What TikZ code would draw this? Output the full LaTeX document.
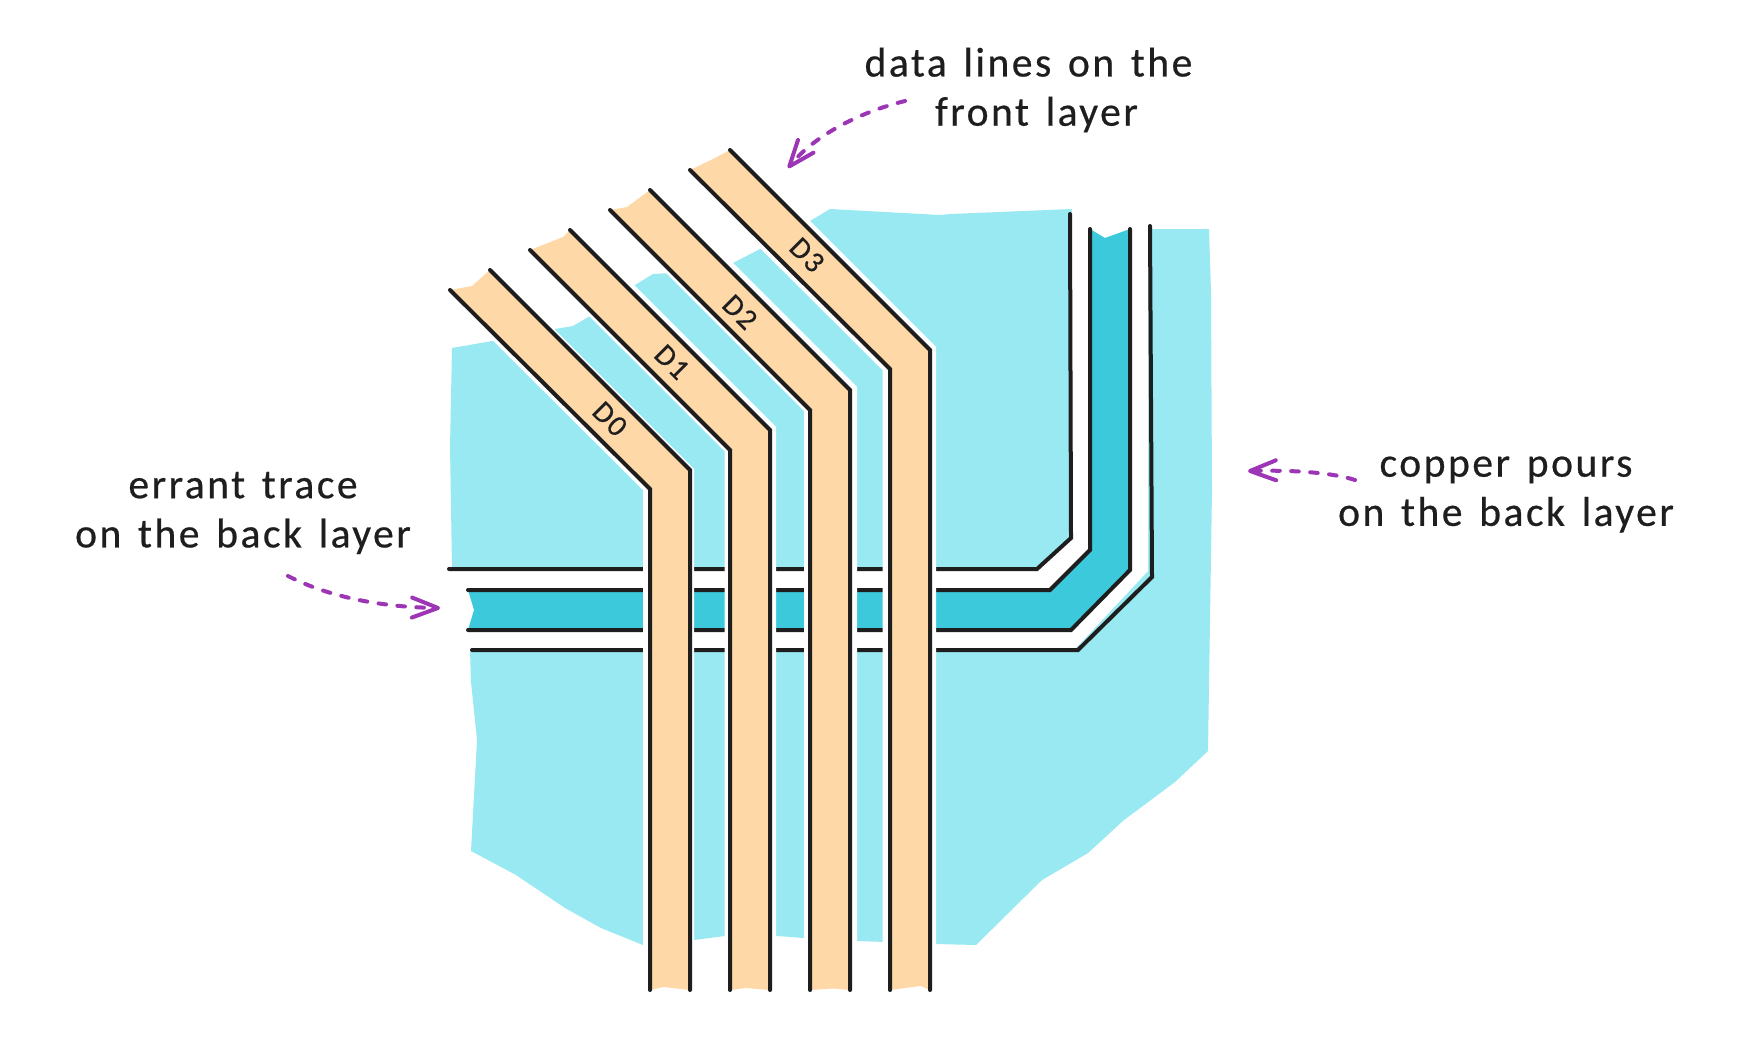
\documentclass[tikz,border=0pt]{standalone}
\usepackage{fontspec}
\usetikzlibrary{arrows.meta}
\newfontfamily\handfont[LetterSpace=6,WordSpace=1.4,FakeBold=0.5]{Carlito}
\definecolor{pourc}{HTML}{99E9F2}
\definecolor{errantc}{HTML}{3BC9DB}
\definecolor{tracec}{HTML}{FFD8A8}
\definecolor{inkc}{HTML}{1E1E1E}
\definecolor{notec}{HTML}{9C36B5}
\tikzset{
  wire/.style={draw=inkc,line width=2pt,line cap=round,line join=miter},
  halo/.style={fill=white,draw=none},
  tracefill/.style={fill=tracec,draw=none},
  note/.style={font=\handfont\fontsize{20.8}{24.6}\selectfont,text=inkc,align=center,inner sep=0pt},
  dlabel/.style={font=\handfont\fontsize{15}{16}\selectfont,text=inkc,inner sep=0pt,rotate=-45},
  callout/.style={draw=notec,line width=2pt,line cap=round,dash pattern=on 3.8pt off 5.7pt,
    -{Straight Barb[length=13pt,width=10pt,round,line width=2pt]}}
}
\begin{document}
\begin{tikzpicture}[x=0.5pt,y=-0.5pt]
\useasboundingbox (0,0) rectangle (1760,1060);
% copper pour
\fill[pourc] (452,348) -- (492,341) -- (555,329) -- (573,326) -- (590,316) -- (635,285) -- (653,274)
  -- (670,273) -- (733,263) -- (760,249) -- (810,221) -- (830,209) -- (940,215) -- (950,214)
  -- (1072,209) -- (1150,229) -- (1209,229) -- (1211,293) -- (1212,490) -- (1208,751)
  -- (1175,782) -- (1124,820) -- (1088,853) -- (1042,880) -- (976,945) -- (936,944)
  -- (887,942) -- (855,941) -- (804,938) -- (777,936) -- (725,936) -- (694,940) -- (643,945)
  -- (601,928) -- (565,908) -- (516,875) -- (471,851) -- (477,740) -- (471,682) -- (470,650)
  -- (452,568) -- (450,447) -- cycle;
% clearance around the errant trace
\fill[white] (440,570) -- (1037,570) -- (1071,538) -- (1072,200) -- (1148,200) -- (1148,571)
  -- (1076,648) -- (1076,650) -- (440,650) -- cycle;
% errant trace
\fill[errantc] (468,590) -- (1050,590) -- (1090,550) -- (1090,229) -- (1105,238) -- (1130,229)
  -- (1130,570) -- (1071,630) -- (468,630) -- (474,610) -- cycle;
\draw[wire] (449,569) -- (1037,569) -- (1071,538) -- (1070,214);
\draw[wire] (468,590) -- (1050,590) -- (1090,550) -- (1090,229);
\draw[wire] (468,630) -- (1071,630) -- (1130,570) -- (1130,229);
\draw[wire] (472,650) -- (1078,650) -- (1152,577) -- (1150,226);
% data lines
\fill[halo] (443,291) -- (643,490) -- (643,995) -- (694,995) -- (694,469) -- (494,269) -- cycle;
\fill[halo] (524,251) -- (724.5,451) -- (724.5,995) -- (776,995) -- (776,427) -- (576,227) -- cycle;
\fill[halo] (604,211) -- (804,411) -- (804,995) -- (857,995) -- (857,387) -- (657,187) -- cycle;
\fill[halo] (682.5,171) -- (882.5,370) -- (882.5,995) -- (936,995) -- (936,347) -- (736,147) -- cycle;
\fill[tracefill] (450,290) -- (472,286) -- (490,270) -- (690,470) -- (690,990) -- (663.5,987) -- (650,990) -- (650,489) -- cycle;
\fill[tracefill] (530,250) -- (563,237) -- (570,230) -- (770,430) -- (770,990) -- (746,988) -- (730,990) -- (730,450) -- cycle;
\fill[tracefill] (610,210) -- (627,207) -- (650,190) -- (850,390) -- (850,990) -- (833,988.5) -- (810,990) -- (810,410) -- cycle;
\fill[tracefill] (690,170) -- (713,159) -- (730,150) -- (930,350) -- (930,990) -- (920.6,986) -- (890,990) -- (890,369) -- cycle;
\draw[wire] (450,290) -- (650,489) -- (650,990);
\draw[wire] (490,270) -- (690,470) -- (690,990);
\draw[wire] (530,250) -- (730,450) -- (730,990);
\draw[wire] (570,230) -- (770,430) -- (770,990);
\draw[wire] (610,210) -- (810,410) -- (810,990);
\draw[wire] (650,190) -- (850,390) -- (850,990);
\draw[wire] (690,170) -- (890,369) -- (890,990);
\draw[wire] (730,150) -- (930,350) -- (930,990);
\node[dlabel] (d0) at (610,419) {D0};
\node[dlabel] (d1) at (672,362) {D1};
\node[dlabel] (d2) at (740,312) {D2};
\node[dlabel] (d3) at (807,255) {D3};
% notes
\node[note] (front) at (1028.5,90) {data lines on the\\\hspace*{8pt}front layer};
\node[note] (errant) at (243,513) {errant trace\\on the back layer};
\node[note] (copper) at (1506,494.5) {copper pours\\on the back layer};
\coordinate (frontstart) at (905,101);
\coordinate (frontend) at (788,168);
\coordinate (errantstart) at (288,576);
\coordinate (errantend) at (440,608);
\coordinate (copperstart) at (1355,480);
\coordinate (copperend) at (1248,471);
\draw[callout] (frontstart) .. controls (860,112) and (815,135) .. (frontend);
\draw[callout] (errantstart) .. controls (325,595) and (375,607) .. (errantend);
\draw[callout] (copperstart) .. controls (1330,472) and (1290,470) .. (copperend);
\end{tikzpicture}
\end{document}
